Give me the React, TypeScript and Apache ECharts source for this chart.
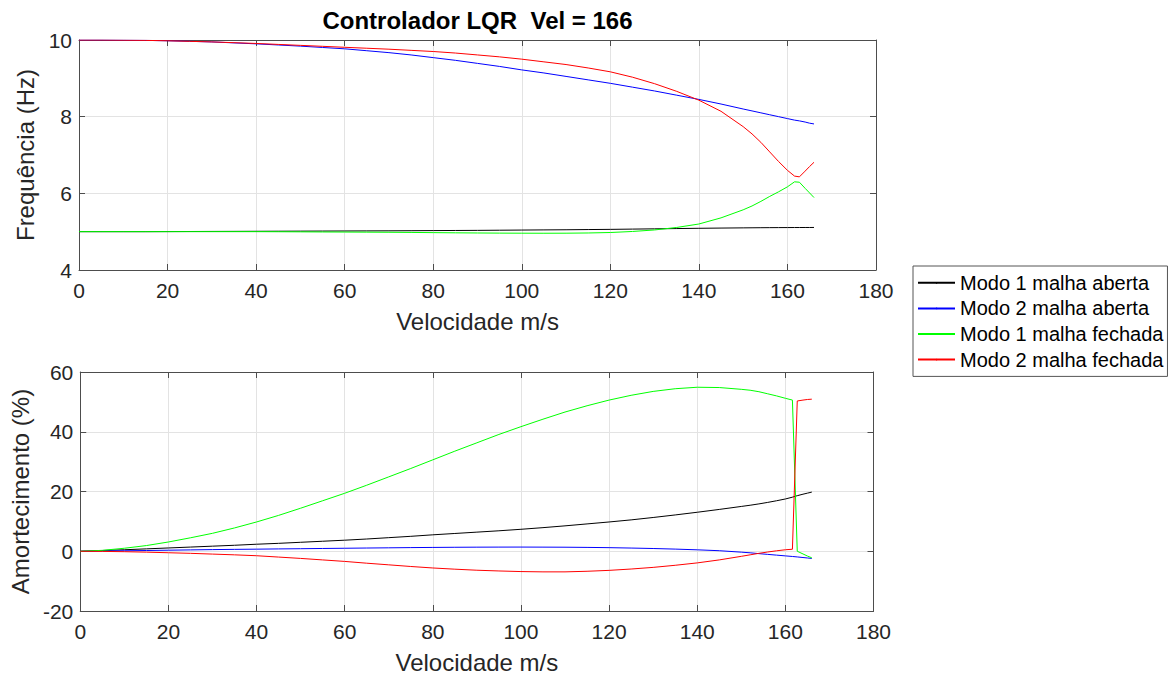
import React, { useEffect, useRef } from "react";
import * as echarts from "echarts";

// Velocidade (m/s)
const velocity = [0, 5, 10, 15, 20, 25, 30, 35, 40, 45, 50, 55, 60, 65, 70, 75, 80, 85, 90, 95, 100, 105, 110, 115, 120, 125, 130, 135, 140, 145, 150, 152, 154, 156, 158, 160, 161.6, 162.7, 164, 165, 166];

// Frequência (Hz)
const freqMode1Open = [5.0, 5.0, 5.0, 5.0, 5.002, 5.004, 5.006, 5.008, 5.01, 5.012, 5.014, 5.016, 5.018, 5.02, 5.022, 5.025, 5.028, 5.031, 5.034, 5.038, 5.042, 5.046, 5.05, 5.055, 5.06, 5.067, 5.074, 5.081, 5.088, 5.094, 5.099, 5.101, 5.103, 5.105, 5.106, 5.107, 5.108, 5.108, 5.109, 5.109, 5.11];
const freqMode2Open = [10.0, 10.0, 9.995, 9.99, 9.98, 9.965, 9.95, 9.925, 9.9, 9.87, 9.84, 9.805, 9.77, 9.72, 9.67, 9.61, 9.54, 9.47, 9.39, 9.31, 9.22, 9.14, 9.05, 8.96, 8.87, 8.77, 8.67, 8.56, 8.45, 8.33, 8.2, 8.15, 8.1, 8.05, 8.0, 7.95, 7.91, 7.89, 7.86, 7.83, 7.81];
const freqMode1Closed = [5.0, 5.0, 5.0, 5.0, 5.0, 5.0, 5.0, 5.0, 5.0, 4.998, 4.995, 4.992, 4.99, 4.987, 4.984, 4.98, 4.975, 4.97, 4.966, 4.962, 4.96, 4.959, 4.96, 4.966, 4.978, 5.005, 5.045, 5.11, 5.2, 5.36, 5.57, 5.67, 5.79, 5.92, 6.04, 6.17, 6.3, 6.29, 6.13, 6.01, 5.89];
const freqMode2Closed = [10.0, 10.0, 9.995, 9.99, 9.98, 9.965, 9.95, 9.93, 9.91, 9.885, 9.86, 9.835, 9.81, 9.785, 9.76, 9.73, 9.7, 9.66, 9.61, 9.56, 9.5, 9.43, 9.36, 9.27, 9.17, 9.03, 8.86, 8.66, 8.43, 8.14, 7.74, 7.55, 7.33, 7.08, 6.83, 6.6, 6.45, 6.43, 6.58, 6.7, 6.81];

// Amortecimento (%)
const dampMode1Open = [0, 0.25, 0.5, 0.8, 1.1, 1.4, 1.7, 2.0, 2.35, 2.65, 3.0, 3.35, 3.7, 4.1, 4.55, 5.0, 5.5, 5.95, 6.4, 6.85, 7.35, 7.9, 8.5, 9.15, 9.8, 10.5, 11.3, 12.15, 13.05, 14.0, 15.0, 15.4, 15.85, 16.35, 16.9, 17.5, 18.1, 18.6, 19.1, 19.45, 19.8];
const dampMode2Open = [0, 0.08, 0.15, 0.25, 0.35, 0.45, 0.55, 0.63, 0.7, 0.78, 0.85, 0.93, 1.0, 1.08, 1.15, 1.22, 1.28, 1.33, 1.37, 1.39, 1.4, 1.38, 1.35, 1.29, 1.2, 1.07, 0.92, 0.72, 0.48, 0.18, -0.3, -0.52, -0.8, -1.05, -1.3, -1.55, -1.75, -1.9, -2.1, -2.25, -2.4];
const dampMode1Closed = [0, 0.3, 1.0, 1.9, 3.1, 4.5, 6.0, 7.8, 9.8, 12.0, 14.4, 16.9, 19.4, 22.1, 24.9, 27.7, 30.6, 33.5, 36.3, 39.1, 41.7, 44.2, 46.6, 48.7, 50.6, 52.2, 53.5, 54.4, 54.9, 54.8, 54.2, 53.9, 53.4, 52.7, 52.0, 51.2, 50.6, 0.0, -0.9, -1.6, -2.2];
const dampMode2Closed = [0, -0.05, -0.15, -0.3, -0.5, -0.7, -0.95, -1.2, -1.5, -1.95, -2.4, -2.9, -3.4, -4.0, -4.55, -5.1, -5.6, -6.0, -6.35, -6.6, -6.8, -6.9, -6.9, -6.7, -6.4, -5.95, -5.4, -4.7, -3.9, -2.9, -1.7, -1.2, -0.7, -0.25, 0.15, 0.5, 0.67, 50.3, 50.6, 50.8, 50.9];

const seriesNames = ["Modo 1 malha aberta", "Modo 2 malha aberta", "Modo 1 malha fechada", "Modo 2 malha fechada"];
const seriesColors = ["#000000", "#0000ff", "#00ff00", "#ff0000"];

const xTicks = { min: 0, max: 180, interval: 20 };
const freqTicks = { min: 4, max: 10, interval: 2 };
const dampTicks = { min: -20, max: 60, interval: 20 };

const titleText = "Controlador LQR  Vel = 166";
const xName = "Velocidade m/s";
const freqName = "Frequência (Hz)";
const dampName = "Amortecimento (%)";

const FONT = "'Liberation Sans', Arial, Helvetica, sans-serif";
const TXT = "#262626";
const AXIS = "#4d4d4d";
const GRID = "#e3e3e3";

function pairs(ys: number[]) {
  return velocity.map((v, i) => [v, ys[i]]);
}

export default function App() {
  const ref = useRef<HTMLDivElement>(null);
  useEffect(() => {
    if (!ref.current) return;
    const chart = echarts.init(ref.current, null, { renderer: "svg" });

    const mainX = (gridIndex: number) => ({
      type: "value",
      gridIndex,
      position: "bottom",
      ...xTicks,
      name: xName,
      nameLocation: "middle",
      nameGap: 39,
      nameTextStyle: { fontFamily: FONT, fontSize: 24, color: TXT },
      axisLine: { show: true, onZero: false, lineStyle: { color: AXIS, width: 1 } },
      axisTick: { show: true, inside: true, length: 6, lineStyle: { color: AXIS } },
      axisLabel: { fontFamily: FONT, fontSize: 21, color: TXT, margin: 10 },
      splitLine: { show: true, lineStyle: { color: GRID, width: 1 } },
    });
    const topX = (gridIndex: number) => ({
      type: "value",
      gridIndex,
      position: "top",
      ...xTicks,
      axisLine: { show: true, onZero: false, lineStyle: { color: AXIS, width: 1 } },
      axisTick: { show: true, inside: true, length: 6, lineStyle: { color: AXIS } },
      axisLabel: { show: false },
      splitLine: { show: false },
    });
    const mainY = (gridIndex: number, ticks: any, name: string, gap: number) => ({
      type: "value",
      gridIndex,
      position: "left",
      ...ticks,
      name,
      nameLocation: "middle",
      nameGap: gap,
      nameTextStyle: { fontFamily: FONT, fontSize: 24, color: TXT },
      axisLine: { show: true, onZero: false, lineStyle: { color: AXIS, width: 1 } },
      axisTick: { show: true, inside: true, length: 6, lineStyle: { color: AXIS } },
      axisLabel: { fontFamily: FONT, fontSize: 21, color: TXT, margin: 7 },
      splitLine: { show: true, lineStyle: { color: GRID, width: 1 } },
    });
    const rightY = (gridIndex: number, ticks: any) => ({
      type: "value",
      gridIndex,
      position: "right",
      ...ticks,
      axisLine: { show: true, onZero: false, lineStyle: { color: AXIS, width: 1 } },
      axisTick: { show: true, inside: true, length: 6, lineStyle: { color: AXIS } },
      axisLabel: { show: false },
      splitLine: { show: false },
    });

    const freqData = [freqMode1Open, freqMode2Open, freqMode1Closed, freqMode2Closed];
    const dampData = [dampMode1Open, dampMode2Open, dampMode1Closed, dampMode2Closed];

    const mkSeries = (data: number[][], xi: number, yi: number) =>
      data.map((ys, k) => ({
        type: "line",
        name: seriesNames[k],
        xAxisIndex: xi,
        yAxisIndex: yi,
        data: pairs(ys),
        showSymbol: false,
        symbol: "none",
        lineStyle: { color: seriesColors[k], width: 1 },
        itemStyle: { color: seriesColors[k] },
        silent: true,
      }));

    chart.setOption({
      animation: false,
      backgroundColor: "#ffffff",
      title: {
        text: titleText,
        left: 477.5,
        top: 8,
        padding: 0,
        textAlign: "center",
        textStyle: { fontFamily: FONT, fontSize: 24, fontWeight: "bold", color: "#000000" },
      },
      legend: {
        orient: "vertical",
        left: 913,
        top: 266,
        padding: [4, 4, 4, 4],
        itemGap: 0,
        itemWidth: 37,
        itemHeight: 2,
        backgroundColor: "#ffffff",
        borderColor: "#555555",
        borderWidth: 1,
        data: seriesNames,
        textStyle: { fontFamily: FONT, fontSize: 20, color: "#000000", lineHeight: 25.6 },
      },
      grid: [
        { left: 79, top: 40, width: 797, height: 230, show: false },
        { left: 79, top: 372, width: 794.5, height: 239, show: false },
      ],
      xAxis: [mainX(0), topX(0), mainX(1), topX(1)],
      yAxis: [
        mainY(0, freqTicks, freqName, 36),
        rightY(0, freqTicks),
        mainY(1, dampTicks, dampName, 44),
        rightY(1, dampTicks),
      ],
      series: [...mkSeries(freqData, 0, 0), ...mkSeries(dampData, 2, 2)],
    });
    return () => chart.dispose();
  }, []);
  return (
    <div
      ref={ref}
      style={{ position: "absolute", left: 0, top: 0, width: 1172, height: 678, background: "#fff" }}
    />
  );
}
